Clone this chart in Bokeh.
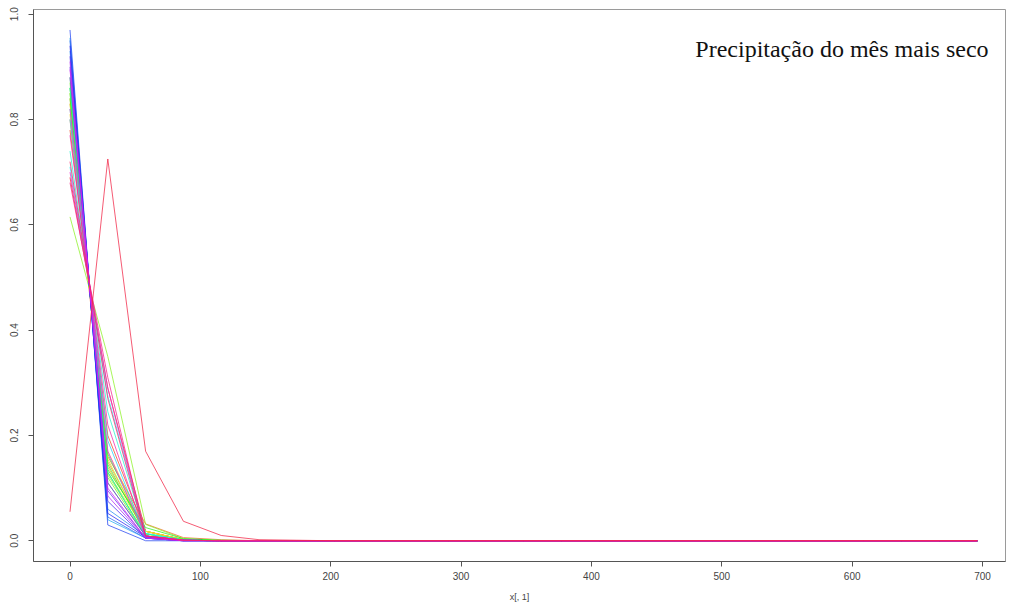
import colorsys
from bokeh.plotting import figure
from bokeh.models import Label, FixedTicker, PrintfTickFormatter, Range1d
from bokeh.embed import file_html
from bokeh.resources import INLINE

# x positions (bins)
x_vals = [0, 29, 58, 87, 116, 145, 174, 203, 232, 261, 290, 319, 348, 377,
          406, 435, 464, 493, 522, 551, 580, 609, 638, 667, 696]

Z = [0] * 19  # trailing bins are all zero in every series
series = [
    [0.69, 0.29, 0.018, 0.002, 0, 0] + Z,
    [0.78, 0.20, 0.018, 0.002, 0, 0] + Z,
    [0.80, 0.16, 0.032, 0.006, 0.002, 0] + Z,
    [0.83, 0.15, 0.018, 0.002, 0, 0] + Z,
    [0.84, 0.14, 0.018, 0.002, 0, 0] + Z,
    [0.81, 0.17, 0.018, 0.002, 0, 0] + Z,
    [0.85, 0.13, 0.018, 0.002, 0, 0] + Z,
    [0.83, 0.155, 0.013, 0.002, 0, 0] + Z,
    [0.86, 0.125, 0.013, 0.002, 0, 0] + Z,
    [0.615, 0.35, 0.031, 0.004, 0, 0] + Z,
    [0.87, 0.12, 0.009, 0.001, 0, 0] + Z,
    [0.84, 0.145, 0.013, 0.002, 0, 0] + Z,
    [0.85, 0.135, 0.025, 0.004, 0.001, 0] + Z,
    [0.88, 0.11, 0.009, 0.001, 0, 0] + Z,
    [0.82, 0.165, 0.013, 0.002, 0, 0] + Z,
    [0.86, 0.13, 0.009, 0.001, 0, 0] + Z,
    [0.86, 0.13, 0.009, 0.001, 0, 0] + Z,
    [0.74, 0.245, 0.014, 0.001, 0, 0] + Z,
    [0.71, 0.275, 0.014, 0.001, 0, 0] + Z,
    [0.80, 0.19, 0.009, 0.001, 0, 0] + Z,
    [0.955, 0.04, 0.005, 0, 0, 0] + Z,
    [0.93, 0.06, 0.009, 0.001, 0, 0] + Z,
    [0.95, 0.045, 0.005, 0, 0, 0] + Z,
    [0.97, 0.03, 0, 0, 0, 0] + Z,
    [0.94, 0.052, 0.007, 0.001, 0, 0] + Z,
    [0.92, 0.075, 0.005, 0, 0, 0] + Z,
    [0.90, 0.095, 0.005, 0, 0, 0] + Z,
    [0.88, 0.11, 0.009, 0.001, 0, 0] + Z,
    [0.91, 0.085, 0.005, 0, 0, 0] + Z,
    [0.895, 0.10, 0.005, 0, 0, 0] + Z,
    [0.82, 0.17, 0.009, 0.001, 0, 0] + Z,
    [0.70, 0.29, 0.009, 0.001, 0, 0] + Z,
    [0.77, 0.22, 0.009, 0.001, 0, 0] + Z,
    [0.68, 0.31, 0.009, 0.001, 0, 0] + Z,
    [0.72, 0.27, 0.009, 0.001, 0, 0] + Z,
    [0.055, 0.725, 0.17, 0.037, 0.01, 0.002, 0.001] + [0] * 18,
]

x_ticks = [0, 100, 200, 300, 400, 500, 600, 700]
y_ticks = [0.0, 0.2, 0.4, 0.6, 0.8, 1.0]
title_text = "Precipitação do mês mais seco"
x_label = "x[, 1]"

n = len(series)
colors = []
for i in range(n):
    r, g, b = colorsys.hsv_to_rgb(i / n, 0.85, 0.95)
    colors.append("#%02x%02x%02x" % (int(r * 255), int(g * 255), int(b * 255)))

p = figure(width=1009, height=610, output_backend="svg", toolbar_location=None,
           x_range=Range1d(-28.0, 717.6), y_range=Range1d(-0.0394, 1.0089),
           min_border_left=33, min_border_right=4, min_border_top=9,
           min_border_bottom=49)
p.background_fill_color = "white"
p.border_fill_color = "white"
p.outline_line_color = "#9a9a9a"
p.outline_line_width = 1
p.xgrid.visible = False
p.ygrid.visible = False

for ys, c in zip(series, colors):
    p.line(x_vals, ys, line_color=c, line_width=1, line_alpha=0.75)

p.xaxis.ticker = FixedTicker(ticks=x_ticks)
p.yaxis.ticker = FixedTicker(ticks=y_ticks)
p.yaxis.formatter = PrintfTickFormatter(format="%.1f")
for ax in (p.xaxis, p.yaxis):
    ax.axis_line_color = "#555555"
    ax.major_tick_line_color = "#555555"
    ax.major_tick_out = 5
    ax.major_tick_in = 0
    ax.minor_tick_line_color = None
    ax.major_label_text_font = "Liberation Sans"
    ax.major_label_text_font_size = "10px"
    ax.major_label_text_color = "#444444"
p.yaxis.major_label_orientation = "vertical"
p.yaxis.major_label_standoff = 10
p.xaxis.major_label_standoff = 5
p.xaxis.axis_label = x_label
p.xaxis.axis_label_text_font = "Liberation Sans"
p.xaxis.axis_label_text_font_size = "9px"
p.xaxis.axis_label_text_font_style = "normal"
p.xaxis.axis_label_text_color = "#444444"
p.xaxis.axis_label_standoff = 9

p.add_layout(Label(x=704.6, y=0.933, text=title_text, text_font="Liberation Serif",
                   text_font_size="24px", text_align="right",
                   text_baseline="alphabetic", text_color="#111111"))

open("out.html", "w").write(file_html(p, INLINE))
